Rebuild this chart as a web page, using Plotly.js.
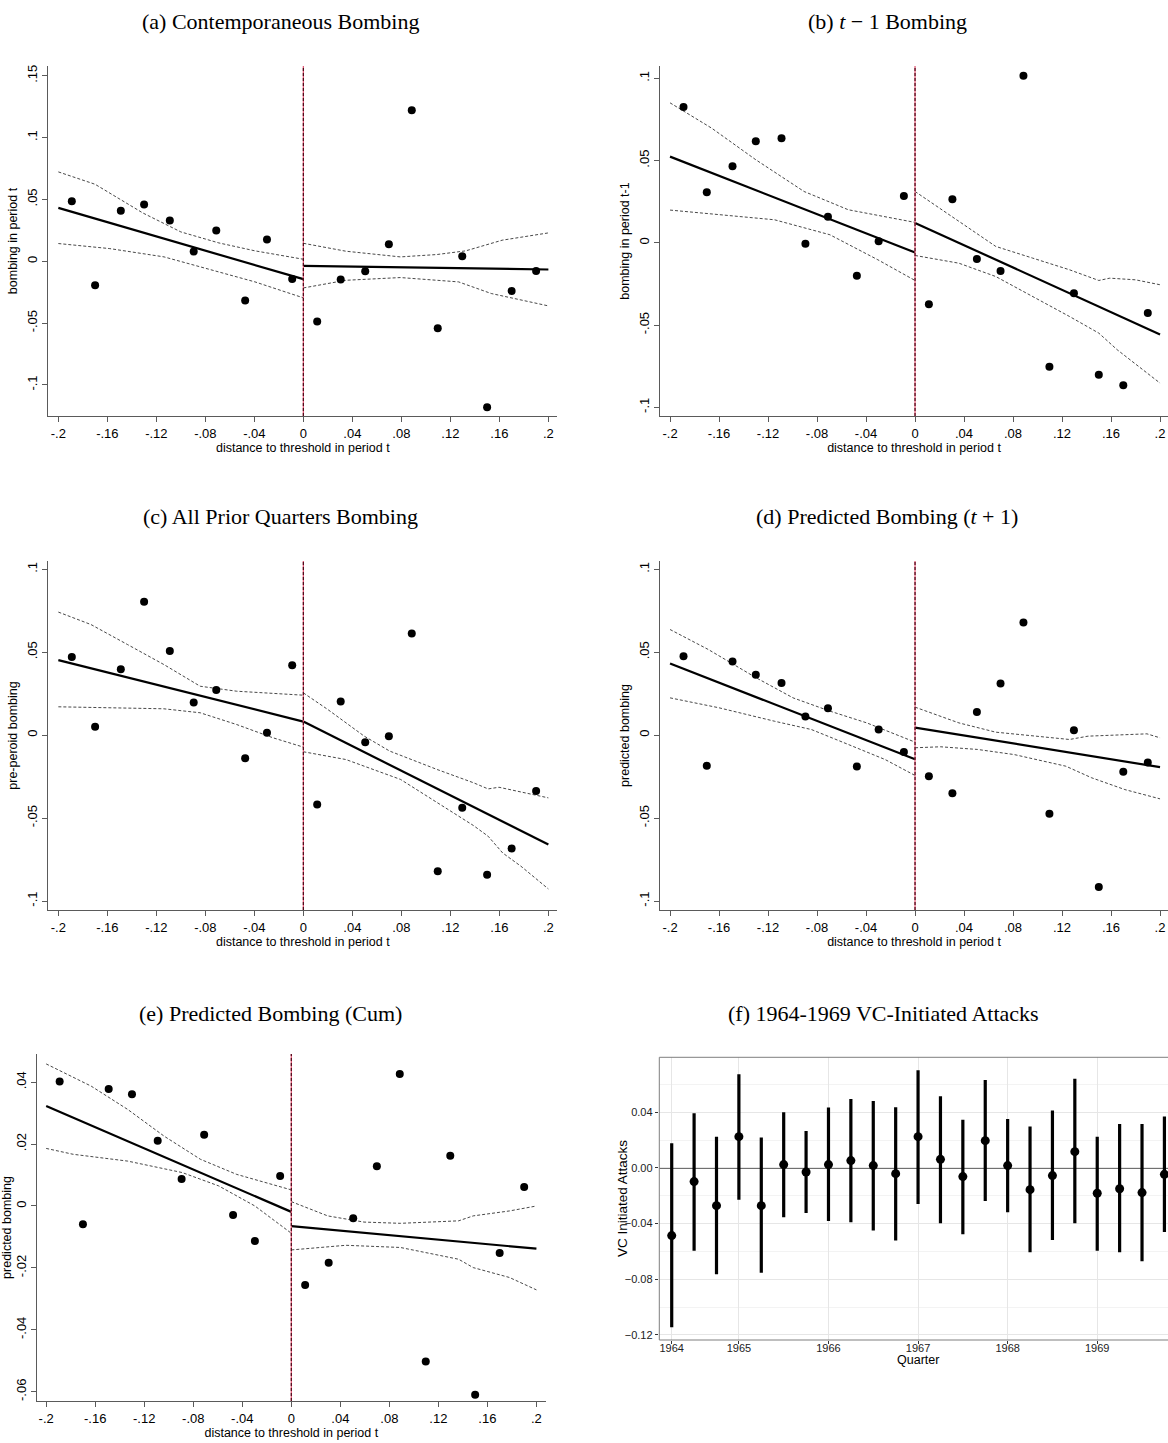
<!DOCTYPE html>
<html><head><meta charset="utf-8">
<script src="https://cdn.plot.ly/plotly-3.0.1.min.js"></script>
<style>html,body{margin:0;padding:0;background:#fff;overflow:hidden}#chart{width:1168px;height:1443px}</style>
</head><body><div id="chart"></div>
<script>
// ---------- shared bins (distance to threshold) ----------
const binX = [-0.189,-0.170,-0.149,-0.130,-0.109,-0.0895,-0.0711,-0.0475,-0.0297,-0.0091,0.0113,0.0305,0.0505,0.0698,0.0885,0.1097,0.1297,0.1500,0.1700,0.1900];
const fitLeftX = [-0.2, 0];
const fitRightX = [0, 0.2];
const xTickVals = [-0.2,-0.16,-0.12,-0.08,-0.04,0,0.04,0.08,0.12,0.16,0.2];
const xTickText = ['-.2','-.16','-.12','-.08','-.04','0','.04','.08','.12','.16','.2'];

// ---------- (a) Contemporaneous bombing ----------
const aY = [0.0485,-0.0194,0.0407,0.0458,0.0329,0.0078,0.0248,-0.0318,0.0175,-0.0143,-0.0488,-0.0148,-0.0081,0.0137,0.1220,-0.0541,0.0040,-0.1180,-0.0240,-0.0078];
const aFitL = [0.0431,-0.0145];
const aFitR = [-0.0038,-0.0067];
const aCiUpLx = [-0.2,-0.170,-0.131,-0.100,-0.069,-0.0395,0];
const aCiUpLy = [0.0722,0.0622,0.0390,0.0237,0.0148,0.0084,0.0016];
const aCiLoLx = [-0.2,-0.158,-0.1137,-0.0691,-0.0395,0];
const aCiLoLy = [0.0143,0.0102,0.0035,-0.0086,-0.0167,-0.0296];
const aCiUpRx = [0,0.0347,0.0792,0.1089,0.1326,0.1623,0.2];
const aCiUpRy = [0.0145,0.0081,0.0035,0.0054,0.0084,0.0170,0.0229];
const aCiLoRx = [0,0.0347,0.0792,0.1267,0.1534,0.2];
const aCiLoRy = [-0.0216,-0.0154,-0.0132,-0.0167,-0.0261,-0.0361];
const aYTickVals = [-0.1,-0.05,0,0.05,0.1,0.15];
const aYTickText = ['-.1','-.05','0','.05','.1','.15'];

// ---------- (b) t-1 bombing ----------
const bY = [0.0826,0.0308,0.0466,0.0617,0.0636,-0.0006,0.0158,-0.0200,0.0010,0.0285,-0.0374,0.0265,-0.0099,-0.0172,0.1016,-0.0753,-0.0306,-0.0802,-0.0866,-0.0427];
const bFitL = [0.0524,-0.0059];
const bFitR = [0.0121,-0.0557];
const bCiUpLx = [-0.2,-0.166,-0.130,-0.0906,-0.0545,-0.0244,0];
const bCiUpLy = [0.0851,0.0697,0.0505,0.0312,0.0201,0.0160,0.0124];
const bCiLoLx = [-0.2,-0.160,-0.1147,-0.0695,-0.0304,0];
const bCiLoLy = [0.0199,0.0170,0.0140,0.0049,-0.0103,-0.0229];
const bCiUpRx = [0,0.0298,0.0659,0.0960,0.1261,0.150,0.159,0.180,0.2];
const bCiUpRy = [0.0312,0.0160,-0.0022,-0.0093,-0.0164,-0.0229,-0.0215,-0.0225,-0.0255];
const bCiLoRx = [0,0.0358,0.0659,0.0960,0.1261,0.150,0.165,0.2];
const bCiLoRy = [-0.0077,-0.0124,-0.0205,-0.0326,-0.0448,-0.0549,-0.0650,-0.0853];
const yTickVals10 = [-0.1,-0.05,0,0.05,0.1];
const yTickText10 = ['-.1','-.05','0','.05','.1'];

// ---------- (c) all prior quarters bombing ----------
const cY = [0.0472,0.0050,0.0398,0.0804,0.0507,0.0197,0.0273,-0.0139,0.0014,0.0422,-0.0418,0.0203,-0.0042,-0.0006,0.0613,-0.0820,-0.0438,-0.0842,-0.0683,-0.0336];
const cFitL = [0.0452,0.0082];
const cFitR = [0.0082,-0.0659];
const cCiUpLx = [-0.2,-0.1734,-0.1437,-0.1139,-0.0842,-0.0544,0];
const cCiUpLy = [0.0742,0.0667,0.0547,0.0426,0.0295,0.0265,0.0241];
const cCiLoLx = [-0.2,-0.1585,-0.1139,-0.0842,-0.0544,-0.0247,0];
const cCiLoLy = [0.0171,0.0167,0.0159,0.0135,0.0064,-0.0016,-0.0072];
const cCiUpRx = [0,0.0199,0.0497,0.0705,0.1092,0.1389,0.1508,0.1597,0.2];
const cCiUpRy = [0.0255,0.0155,-0.0006,-0.0096,-0.0207,-0.0287,-0.0324,-0.0314,-0.0378];
const cCiLoRx = [0,0.0348,0.0794,0.1092,0.1389,0.1508,0.1627,0.1776,0.2];
const cCiLoRy = [-0.0100,-0.0147,-0.0267,-0.0408,-0.0545,-0.0609,-0.0710,-0.0790,-0.0927];

// ---------- (d) predicted bombing (t+1) ----------
const dY = [0.0476,-0.0185,0.0444,0.0364,0.0314,0.0113,0.0163,-0.0189,0.0034,-0.0101,-0.0247,-0.0350,0.0139,0.0312,0.0679,-0.0474,0.0030,-0.0915,-0.0221,-0.0165];
const dFitL = [0.0432,-0.0145];
const dFitR = [0.0046,-0.0193];
const dCiUpLx = [-0.2,-0.1689,-0.1297,-0.0996,-0.0695,-0.0394,0];
const dCiUpLy = [0.0637,0.0517,0.0346,0.0225,0.0145,0.0074,-0.0042];
const dCiLoLx = [-0.2,-0.160,-0.1147,-0.0846,-0.0545,-0.0244,0];
const dCiLoLy = [0.0225,0.0165,0.0084,0.0034,-0.0056,-0.0147,-0.0243];
const dCiUpRx = [0,0.0358,0.0659,0.0960,0.1261,0.1412,0.1713,0.1893,0.2];
const dCiUpRy = [0.0169,0.0074,0.0018,-0.0006,-0.0026,-0.0006,0.0004,0.0008,-0.0016];
const dCiLoRx = [0,0.0208,0.0509,0.0810,0.1231,0.1442,0.1713,0.2];
const dCiLoRy = [-0.0076,-0.0070,-0.0086,-0.0117,-0.0187,-0.0257,-0.0328,-0.0384];

// ---------- (e) predicted bombing (cum) ----------
const eY = [0.0402,-0.0059,0.0378,0.0361,0.0211,0.0087,0.0230,-0.0029,-0.0113,0.0097,-0.0255,-0.0183,-0.0040,0.0128,0.0426,-0.0502,0.0162,-0.0610,-0.0152,0.0061];
const eFitL = [0.0323,-0.0019];
const eFitR = [-0.0065,-0.0138];
const eCiUpLx = [-0.2,-0.1632,-0.1335,-0.1039,-0.0742,-0.0445,0];
const eCiUpLy = [0.0459,0.0387,0.0312,0.0226,0.0151,0.0102,0.0052];
const eCiLoLx = [-0.2,-0.178,-0.1335,-0.089,-0.0593,-0.0297,0];
const eCiLoLy = [0.0186,0.0167,0.0145,0.0108,0.0065,0.0000,-0.0088];
const eCiUpRx = [0,0.0297,0.0593,0.089,0.1365,0.1484,0.178,0.2];
const eCiUpRy = [0.0014,-0.0032,-0.0052,-0.0056,-0.0048,-0.0032,-0.0016,0.0000];
const eCiLoRx = [0,0.0445,0.089,0.1365,0.1484,0.178,0.2];
const eCiLoRy = [-0.0142,-0.0127,-0.0134,-0.0172,-0.0199,-0.0231,-0.0271];
const eYTickVals = [-0.06,-0.04,-0.02,0,0.02,0.04];
const eYTickText = ['-.06','-.04','-.02','0','.02','.04'];

// ---------- (f) 1964-1969 VC-initiated attacks ----------
const fQuarter = [0,1,2,3,4,5,6,7,8,9,10,11,12,13,14,15,16,17,18,19,20,21,22];
const fEst = [-0.0486,-0.0098,-0.0271,0.0225,-0.0271,0.0024,-0.0029,0.0024,0.0053,0.0017,-0.0041,0.0225,0.0062,-0.0062,0.0196,0.0017,-0.0156,-0.0055,0.0117,-0.0182,-0.0149,-0.0177,-0.0046];
const fHi = [0.0177,0.0393,0.0225,0.0673,0.0218,0.0400,0.0266,0.0434,0.0496,0.0481,0.0436,0.0702,0.0515,0.0347,0.0632,0.0352,0.0297,0.0412,0.0640,0.0225,0.0316,0.0316,0.0369];
const fLo = [-0.1145,-0.0594,-0.0764,-0.0228,-0.0752,-0.0354,-0.0323,-0.0381,-0.0390,-0.0450,-0.0522,-0.0259,-0.0398,-0.0477,-0.0237,-0.0319,-0.0606,-0.0517,-0.0398,-0.0594,-0.0606,-0.0671,-0.0460];
const fYearPos = [0,3,7,11,15,19];
const fYearText = ['1964','1965','1966','1967','1968','1969'];
const fYTickVals = [-0.12,-0.08,-0.04,0,0.04];
const fYTickText = ['\u22120.12','\u22120.08','\u22120.04','0.00','0.04'];
const fYMinor = [-0.10,-0.06,-0.02,0.02,0.06];

// ---------- page geometry (pixels) ----------
const W = 1168, H = 1443;
const px = v => v / W;
const py = v => 1 - v / H;

const SANS = 'Liberation Sans, Arial, Helvetica, sans-serif';
const SERIF = 'Liberation Serif, Times New Roman, serif';
const AX = '#5a5a5a';

const traces = [];
function stataPanel(xr, yr, ys, fitL, fitR, ci) {
  ci.forEach(c => traces.push({x:c[0], y:c[1], xaxis:xr, yaxis:yr, type:'scatter', mode:'lines',
    line:{color:'#333', width:0.9, dash:'3px,2px'}, hoverinfo:'skip', showlegend:false}));
  traces.push({x:fitLeftX, y:fitL, xaxis:xr, yaxis:yr, type:'scatter', mode:'lines', line:{color:'#000', width:2.2}, showlegend:false});
  traces.push({x:fitRightX, y:fitR, xaxis:xr, yaxis:yr, type:'scatter', mode:'lines', line:{color:'#000', width:2.2}, showlegend:false});
  traces.push({x:binX, y:ys, xaxis:xr, yaxis:yr, type:'scatter', mode:'markers', marker:{color:'#000', size:8}, showlegend:false});
}
stataPanel('x','y', aY, aFitL, aFitR, [[aCiUpLx,aCiUpLy],[aCiLoLx,aCiLoLy],[aCiUpRx,aCiUpRy],[aCiLoRx,aCiLoRy]]);
stataPanel('x2','y2', bY, bFitL, bFitR, [[bCiUpLx,bCiUpLy],[bCiLoLx,bCiLoLy],[bCiUpRx,bCiUpRy],[bCiLoRx,bCiLoRy]]);
stataPanel('x3','y3', cY, cFitL, cFitR, [[cCiUpLx,cCiUpLy],[cCiLoLx,cCiLoLy],[cCiUpRx,cCiUpRy],[cCiLoRx,cCiLoRy]]);
stataPanel('x4','y4', dY, dFitL, dFitR, [[dCiUpLx,dCiUpLy],[dCiLoLx,dCiLoLy],[dCiUpRx,dCiUpRy],[dCiLoRx,dCiLoRy]]);
stataPanel('x5','y5', eY, eFitL, eFitR, [[eCiUpLx,eCiUpLy],[eCiLoLx,eCiLoLy],[eCiUpRx,eCiUpRy],[eCiLoRx,eCiLoRy]]);

traces.push({x:fQuarter, y:fEst, xaxis:'x6', yaxis:'y6', type:'scatter', mode:'markers',
  marker:{color:'#000', size:9},
  error_y:{type:'data', symmetric:false,
    array: fHi.map((h,i)=>h-fEst[i]), arrayminus: fEst.map((e,i)=>e-fLo[i]),
    thickness:3.2, width:0, color:'#000'},
  showlegend:false});

function sx(domain, range, anchor) {
  return {domain, range, anchor, showline:true, linecolor:AX, linewidth:1, ticks:'outside', ticklen:5, tickwidth:1, tickcolor:AX,
    tickmode:'array', tickvals:xTickVals, ticktext:xTickText, showgrid:false, zeroline:false, fixedrange:true,
    tickfont:{family:SANS, size:13, color:'#000'},
    title:{text:'distance to threshold in period t', font:{family:SANS, size:12.5, color:'#000'}, standoff:1}};
}
function sy(domain, range, anchor, vals, text, title) {
  return {domain, range, anchor, showline:true, linecolor:AX, linewidth:1, ticks:'outside', ticklen:5, tickwidth:1, tickcolor:AX,
    tickmode:'array', tickvals:vals, ticktext:text, tickangle:-90, showgrid:false, zeroline:false, fixedrange:true,
    tickfont:{family:SANS, size:13, color:'#000'},
    title:{text:title, font:{family:SANS, size:12.5, color:'#000'}, standoff:4}};
}

const xDomL = [px(48.3), px(557.3)], xRngL = [-0.2082, 0.2073];
const xDomR = [px(660), 1], xRngR = [-0.2082, 0.2065];
const yDomTop = [py(416), py(66)], yDomMid = [py(910), py(561)];

const layout = {
  width:W, height:H, margin:{l:0,r:0,t:0,b:0}, paper_bgcolor:'#fff', plot_bgcolor:'rgba(0,0,0,0)', showlegend:false,
  xaxis: sx(xDomL, xRngL, 'y'),
  yaxis: sy(yDomTop, [-0.1251, 0.1578], 'x', aYTickVals, aYTickText, 'bombing in period t'),
  xaxis2: sx(xDomR, xRngR, 'y2'),
  yaxis2: sy(yDomTop, [-0.1053, 0.1075], 'x2', yTickVals10, yTickText10, 'bombing in period t-1'),
  xaxis3: sx(xDomL, xRngL, 'y3'),
  yaxis3: sy(yDomMid, [-0.1054, 0.1050], 'x3', yTickVals10, yTickText10, 'pre-peroid bombing'),
  xaxis4: sx(xDomR, xRngR, 'y4'),
  yaxis4: sy(yDomMid, [-0.1054, 0.1050], 'x4', yTickVals10, yTickText10, 'predicted bombing'),
  xaxis5: sx([px(37.1), px(545.5)], [-0.2074, 0.2074], 'y5'),
  yaxis5: sy([py(1401), py(1054)], [-0.0630, 0.0491], 'x5', eYTickVals, eYTickText, 'predicted bombing'),
  xaxis6: {domain:[px(659.3), 1], range:[-0.554, 22.16], anchor:'y6', showline:false, ticks:'outside', ticklen:3, tickcolor:'#333',
    tickmode:'array', tickvals:fYearPos, ticktext:fYearText, showgrid:true, gridcolor:'#e6e6e6', gridwidth:1, zeroline:false, fixedrange:true,
    ticklabelstandoff:-5,
    tickfont:{family:SANS, size:11, color:'#222'}},
  yaxis6: {domain:[py(1340), py(1057.3)], range:[-0.1236, 0.0795], anchor:'x6', showline:false, ticks:'outside', ticklen:3.5, tickcolor:'#333',
    tickmode:'array', tickvals:fYTickVals, ticktext:fYTickText, showgrid:true, gridcolor:'#e6e6e6', gridwidth:1, zeroline:false, fixedrange:true,
    minor:{tickmode:'array', tickvals:fYMinor, showgrid:true, gridcolor:'#f3f3f3', gridwidth:1, ticks:''},
    tickfont:{family:SANS, size:11, color:'#222'}},
  shapes: [],
  annotations: []
};

// threshold lines at 0 in Stata panels
[['x','y'],['x2','y2'],['x3','y3'],['x4','y4'],['x5','y5']].forEach(([xr,yr]) => {
  layout.shapes.push({type:'line', xref:xr, yref:yr+' domain', x0:0, x1:0, y0:0, y1:1, line:{color:'#e0506e', width:1.2}, layer:'above'});
  layout.shapes.push({type:'line', xref:xr, yref:yr+' domain', x0:0, x1:0, y0:0, y1:1, line:{color:'#4a0818', width:1.2, dash:'3px,2px'}, layer:'above'});
});
// panel (f): zero line and border
layout.shapes.push({type:'line', xref:'x6 domain', yref:'y6', x0:0, x1:1, y0:0, y1:0, line:{color:'#404040', width:1.6}, layer:'below'});
layout.shapes.push({type:'rect', xref:'paper', yref:'paper', x0:px(659.3), x1:1.05, y0:py(1340), y1:py(1057.3), line:{color:'#7f7f7f', width:1}, fillcolor:'rgba(0,0,0,0)', layer:'above'});

// panel (f) axis titles
layout.annotations.push({text:'Quarter', x:px(918), y:py(1360), xref:'paper', yref:'paper', xanchor:'center', yanchor:'middle', showarrow:false,
  font:{family:SANS, size:12.5, color:'#000'}});
layout.annotations.push({text:'VC Initiated Attacks', x:px(622), y:py(1199), xref:'paper', yref:'paper', xanchor:'center', yanchor:'middle', textangle:-90, showarrow:false,
  font:{family:SANS, size:13.5, color:'#000'}});

// panel titles
const titles = [
  ['(a) Contemporaneous Bombing', 280, 22],
  ['(b) <i>t</i> \u2212 1 Bombing', 887, 22],
  ['(c) All Prior Quarters Bombing', 280, 517],
  ['(d) Predicted Bombing (<i>t</i> + 1)', 887, 517],
  ['(e) Predicted Bombing (Cum)', 270, 1013],
  ['(f) 1964-1969 VC-Initiated Attacks', 883, 1013]
];
titles.forEach(([t, x, y]) => layout.annotations.push({text:t, x:px(x), y:py(y), xref:'paper', yref:'paper',
  xanchor:'center', yanchor:'middle', showarrow:false, font:{family:SERIF, size:22, color:'#000'}}));

Plotly.newPlot('chart', traces, layout, {staticPlot:true, displayModeBar:false});
</script></body></html>
